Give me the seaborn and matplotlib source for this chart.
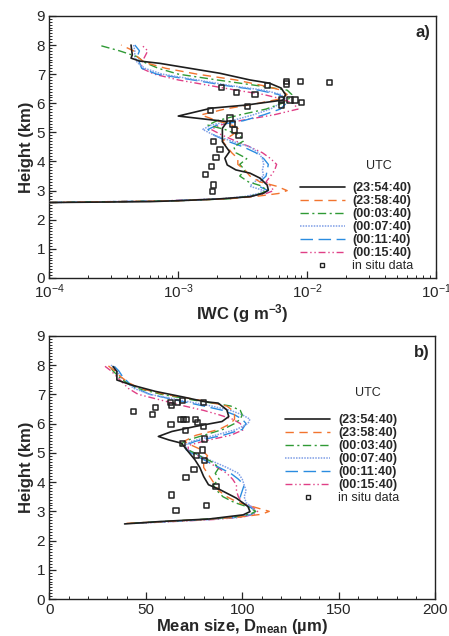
import numpy as np
import matplotlib
matplotlib.use("Agg")
import matplotlib.pyplot as plt
from matplotlib.lines import Line2D
from matplotlib.ticker import MultipleLocator, LogLocator, NullFormatter
import seaborn as sns

sns.set_style("ticks")
plt.rcParams["font.family"] = ["Liberation Sans", "DejaVu Sans"]
plt.rcParams["mathtext.default"] = "regular"

# legend labels (UTC times)
times = ["(23:54:40)", "(23:58:40)", "(00:03:40)", "(00:07:40)", "(00:11:40)", "(00:15:40)"]

# ---------- panel a: IWC (g m-3) ----------
# first profile has its own height points
iwc_h_2354 = [2.59, 2.62, 2.66, 2.71, 2.79, 2.91, 3.02, 3.19, 3.43, 3.60, 3.71, 3.88, 4.11, 4.34, 4.68,
              4.91, 5.14, 5.37, 5.43, 5.56, 5.83, 5.94, 6.11, 6.29, 6.52, 6.69, 6.80, 7.03, 7.37, 7.45,
              7.55, 7.66, 8.0]
iwc_2354 = [1.0e-4, 6.0e-4, 1.1e-3, 2.0e-3, 3.6e-3, 4.6e-3, 5.0e-3, 4.9e-3, 4.3e-3, 3.6e-3, 2.8e-3, 2.4e-3,
            2.3e-3, 2.5e-3, 2.2e-3, 2.2e-3, 2.2e-3, 2.4e-3, 1.8e-3, 1.0e-3, 1.8e-3, 3.4e-3, 6.5e-3, 6.8e-3,
            6.3e-3, 5.1e-3, 3.6e-3, 2.1e-3, 7.2e-4, 5.0e-4, 4.3e-4, 4.4e-4, 4.3e-4]

# height grid (km) for the later profiles
h_grid = [2.59, 2.65, 2.72, 2.8, 2.9, 3.0, 3.15, 3.3, 3.5, 3.7, 3.9, 4.1, 4.3, 4.5, 4.7, 4.9, 5.1, 5.25,
          5.4, 5.6, 5.8, 6.0, 6.15, 6.3, 6.45, 6.6, 6.8, 7.0, 7.2, 7.4, 7.6, 7.8, 8.0]

iwc_2358 = [1.0e-4, 1.0e-3, 2.5e-3, 4.0e-3, 6.0e-3, 7.0e-3, 5.8e-3, 4.3e-3, 3.6e-3, 3.3e-3, 2.9e-3, 2.9e-3,
            2.6e-3, 2.4e-3, 2.2e-3, 2.6e-3, 3.0e-3, 2.6e-3, 2.0e-3, 1.5e-3, 2.3e-3, 4.2e-3, 6.2e-3, 7.0e-3,
            6.3e-3, 4.6e-3, 2.8e-3, 1.4e-3, 8.0e-4, 5.5e-4, 4.8e-4, 4.5e-4, 3.6e-4]
iwc_0003 = [1.0e-4, 1.0e-3, 2.5e-3, 3.5e-3, 4.4e-3, 4.8e-3, 4.5e-3, 3.5e-3, 3.0e-3, 3.3e-3, 3.0e-3, 3.4e-3,
            2.8e-3, 2.7e-3, 3.2e-3, 3.0e-3, 2.3e-3, 1.7e-3, 2.0e-3, 3.0e-3, 4.8e-3, 6.4e-3, 7.2e-3, 7.6e-3,
            7.0e-3, 4.2e-3, 2.0e-3, 1.0e-3, 7.0e-4, 5.5e-4, 4.8e-4, 3.5e-4, 2.4e-4]
iwc_0007 = [1.0e-4, 9.0e-4, 2.2e-3, 3.3e-3, 4.2e-3, 4.6e-3, 3.6e-3, 3.9e-3, 4.6e-3, 4.5e-3, 4.6e-3, 4.5e-3,
            4.2e-3, 3.6e-3, 2.6e-3, 1.9e-3, 1.55e-3, 1.8e-3, 2.6e-3, 3.8e-3, 5.2e-3, 6.2e-3, 6.6e-3, 6.3e-3,
            4.6e-3, 2.6e-3, 1.4e-3, 7.5e-4, 5.5e-4, 4.8e-4, 4.6e-4, 4.6e-4, 4.5e-4]
iwc_0011 = [1.0e-4, 9.0e-4, 2.4e-3, 3.6e-3, 4.5e-3, 5.0e-3, 4.2e-3, 4.3e-3, 4.8e-3, 4.9e-3, 5.0e-3, 4.6e-3,
            4.0e-3, 3.2e-3, 2.4e-3, 1.9e-3, 1.7e-3, 2.0e-3, 3.2e-3, 4.6e-3, 6.2e-3, 6.9e-3, 6.8e-3, 6.0e-3,
            4.2e-3, 2.4e-3, 1.3e-3, 6.8e-4, 5.2e-4, 5.0e-4, 4.8e-4, 5.0e-4, 4.6e-4]
iwc_0015 = [1.0e-4, 8.0e-4, 2.2e-3, 3.6e-3, 4.8e-3, 5.5e-3, 5.2e-3, 4.8e-3, 5.2e-3, 5.6e-3, 5.8e-3, 5.2e-3,
            4.5e-3, 3.6e-3, 2.8e-3, 2.2e-3, 1.8e-3, 2.1e-3, 3.0e-3, 5.5e-3, 8.5e-3, 7.8e-3, 6.3e-3, 4.6e-3,
            2.8e-3, 1.8e-3, 1.0e-3, 6.5e-4, 5.2e-4, 5.2e-4, 5.5e-4, 5.8e-4, 5.2e-4]

insitu_a_h = [6.60, 6.74, 6.66, 6.74, 6.71, 6.54, 6.38, 6.29, 6.11, 5.94, 6.11, 6.11, 6.02, 5.88, 5.75,
              5.49, 5.29, 5.08, 4.88, 4.68, 4.40, 4.15, 3.84, 3.55, 3.19, 2.97]
insitu_a_iwc = [4.9e-3, 6.9e-3, 6.9e-3, 8.9e-3, 1.49e-2, 2.17e-3, 2.84e-3, 3.94e-3, 6.35e-3, 6.35e-3, 7.36e-3,
                8.05e-3, 9.1e-3, 3.47e-3, 1.79e-3, 2.52e-3, 2.63e-3, 2.75e-3, 2.96e-3, 1.87e-3, 2.11e-3,
                1.96e-3, 1.82e-3, 1.63e-3, 1.87e-3, 1.84e-3]

# ---------- panel b: mean size (um) ----------
dm_h_2354 = [2.57, 2.65, 2.74, 2.88, 2.99, 3.16, 3.45, 3.74, 3.91, 4.19, 4.50, 4.76, 5.04, 5.33, 5.44,
             5.56, 5.73, 5.90, 6.07, 6.24, 6.47, 6.70, 6.75, 6.92, 7.10, 7.32, 7.49, 7.78, 7.95]
dm_2354 = [39, 57, 83, 100.5, 104, 103, 97, 88.5, 82.5, 80, 78, 75.5, 72, 68.5, 62, 56.5, 63.5, 75.5,
           89.5, 93, 92, 87.5, 80.5, 68.5, 55, 42.5, 35, 35, 33]
dm_2358 = [40, 60, 80, 98, 110, 114, 106, 98, 92, 88, 86, 84, 82, 80, 80, 82, 79, 74, 70, 76, 88, 94, 96,
           96, 95, 92, 78, 60, 47, 41, 37, 34, 30]
dm_0003 = [42, 58, 78, 95, 104, 107, 103, 96, 90, 87, 85, 88, 86, 88, 84, 78, 72, 68, 70, 80, 90, 96, 99,
           100, 99, 94, 75, 58, 46, 40, 36, 33, 31]
dm_0007 = [44, 62, 82, 98, 105, 107, 105, 102, 101, 102, 101, 100, 98, 92, 85, 78, 72, 70, 74, 86, 97, 103,
           104, 100, 94, 84, 68, 52, 44, 40, 37, 35, 32]
dm_0011 = [44, 62, 82, 98, 105, 107, 104, 100, 99, 100, 101, 98, 94, 88, 82, 76, 71, 70, 76, 90, 100, 102,
           100, 96, 90, 80, 66, 52, 45, 41, 38, 36, 33]
dm_0015 = [45, 64, 85, 100, 106, 108, 105, 100, 98, 97, 97, 95, 92, 87, 82, 77, 72, 72, 80, 94, 101, 99,
           95, 88, 80, 70, 58, 46, 41, 38, 35, 32, 28]

insitu_b_h = [6.41, 6.30, 6.55, 6.72, 6.61, 6.72, 6.79, 6.72, 5.96, 6.13, 6.13, 6.13, 6.13, 6.04, 5.90,
              5.76, 5.47, 5.31, 5.10, 4.90, 4.73, 4.42, 4.16, 3.85, 3.56, 3.19, 3.02]
insitu_b_d = [43.6, 53.4, 55.2, 62.6, 63.5, 66.6, 69.0, 79.9, 63.1, 67.8, 69.5, 71.2, 75.6, 76.9, 80.1,
              70.4, 80.4, 69.0, 79.3, 76.4, 80.4, 75.0, 70.8, 86.4, 63.5, 81.6, 65.7]

# line styles per time
colors = ["#1e1e1e", "#f2742e", "#2f9a35", "#7f9ee6", "#2a8ce0", "#e03f86"]
styles = ["-", (0, (6, 4)), (0, (6, 2.5, 1.5, 2.5)), (0, (1, 0.8)), (0, (9, 4)), (0, (5, 2, 1, 2, 1, 2))]
widths = [1.2, 1.0, 1.0, 1.1, 1.0, 1.0]

fig = plt.figure(figsize=(4.49, 6.36), dpi=100)
ax_a = fig.add_axes([0.110, 0.563, 0.861, 0.412])
ax_b = fig.add_axes([0.110, 0.058, 0.859, 0.414])

profiles_a = [(iwc_h_2354, iwc_2354), (h_grid, iwc_2358), (h_grid, iwc_0003),
              (h_grid, iwc_0007), (h_grid, iwc_0011), (h_grid, iwc_0015)]
profiles_b = [(dm_h_2354, dm_2354), (h_grid, dm_2358), (h_grid, dm_0003),
              (h_grid, dm_0007), (h_grid, dm_0011), (h_grid, dm_0015)]

for ax, profiles in [(ax_a, profiles_a), (ax_b, profiles_b)]:
    for i in range(5, -1, -1):  # draw black line on top
        hh, xx = profiles[i]
        sns.lineplot(x=xx, y=hh, orient="y", ax=ax, color=colors[i], linestyle=styles[i],
                     linewidth=widths[i], zorder=3 + (i == 0))

sns.scatterplot(x=insitu_a_iwc, y=insitu_a_h, ax=ax_a, marker="s", s=14, facecolor="none",
                edgecolor="#222222", linewidth=1.1, zorder=6)
sns.scatterplot(x=insitu_b_d, y=insitu_b_h, ax=ax_b, marker="s", s=14, facecolor="none",
                edgecolor="#222222", linewidth=1.1, zorder=6)

# axes setup
ax_a.set_xscale("log")
ax_a.set_xlim(1e-4, 1e-1)
ax_a.xaxis.set_major_locator(LogLocator(base=10, numticks=10))
ax_a.xaxis.set_minor_locator(LogLocator(base=10, subs=np.arange(2, 10), numticks=20))
ax_a.xaxis.set_minor_formatter(NullFormatter())
ax_b.set_xlim(0, 200)
ax_b.xaxis.set_major_locator(MultipleLocator(50))
ax_b.xaxis.set_minor_locator(MultipleLocator(10))

for ax in [ax_a, ax_b]:
    ax.set_ylim(0, 9)
    ax.yaxis.set_major_locator(MultipleLocator(1))
    ax.yaxis.set_minor_locator(MultipleLocator(0.1))
    ax.tick_params(which="major", direction="in", length=5, width=0.9, labelsize=11, pad=3,
                   top=False, right=False)
    ax.tick_params(which="minor", direction="in", length=2.5, width=0.7, top=False, right=False)
    for sp in ax.spines.values():
        sp.set_linewidth(1.0)
        sp.set_color("#222222")
    ax.set_ylabel("Height (km)", fontsize=12, fontweight="bold", labelpad=2)

ax_a.set_xlabel("IWC (g m$^{-3}$)", fontsize=12, fontweight="bold", labelpad=1)
ax_b.set_xlabel("Mean size, D$_{mean}$ (µm)", fontsize=12, fontweight="bold", labelpad=0)

ax_a.text(0.985, 0.935, "a)", transform=ax_a.transAxes, ha="right", va="center",
          fontsize=12, fontweight="bold")
ax_b.text(0.985, 0.935, "b)", transform=ax_b.transAxes, ha="right", va="center",
          fontsize=12, fontweight="bold")

# legends
handles = [Line2D([], [], color=colors[i], linestyle=styles[i], linewidth=widths[i]) for i in range(6)]
handles.append(Line2D([], [], marker="s", markersize=3.5, markerfacecolor="none",
                      markeredgecolor="#222222", linestyle="none"))
labels = times + ["in situ data"]

for ax, anchor, utc_xy in [(ax_a, (0.648, 0.022), (0.853, 0.427)),
                           (ax_b, (0.612, 0.36), (0.826, 0.783))]:
    leg = ax.legend(handles, labels, loc="lower left", bbox_to_anchor=anchor, frameon=False,
                    fontsize=9, handlelength=3.6, handletextpad=0.6, labelspacing=0.08,
                    borderpad=0, borderaxespad=0)
    for t in leg.get_texts()[:-1]:
        t.set_fontweight("bold")
    ax.text(utc_xy[0], utc_xy[1], "UTC", transform=ax.transAxes, ha="center", va="center", fontsize=9)

fig.savefig("out.png", dpi=100)
